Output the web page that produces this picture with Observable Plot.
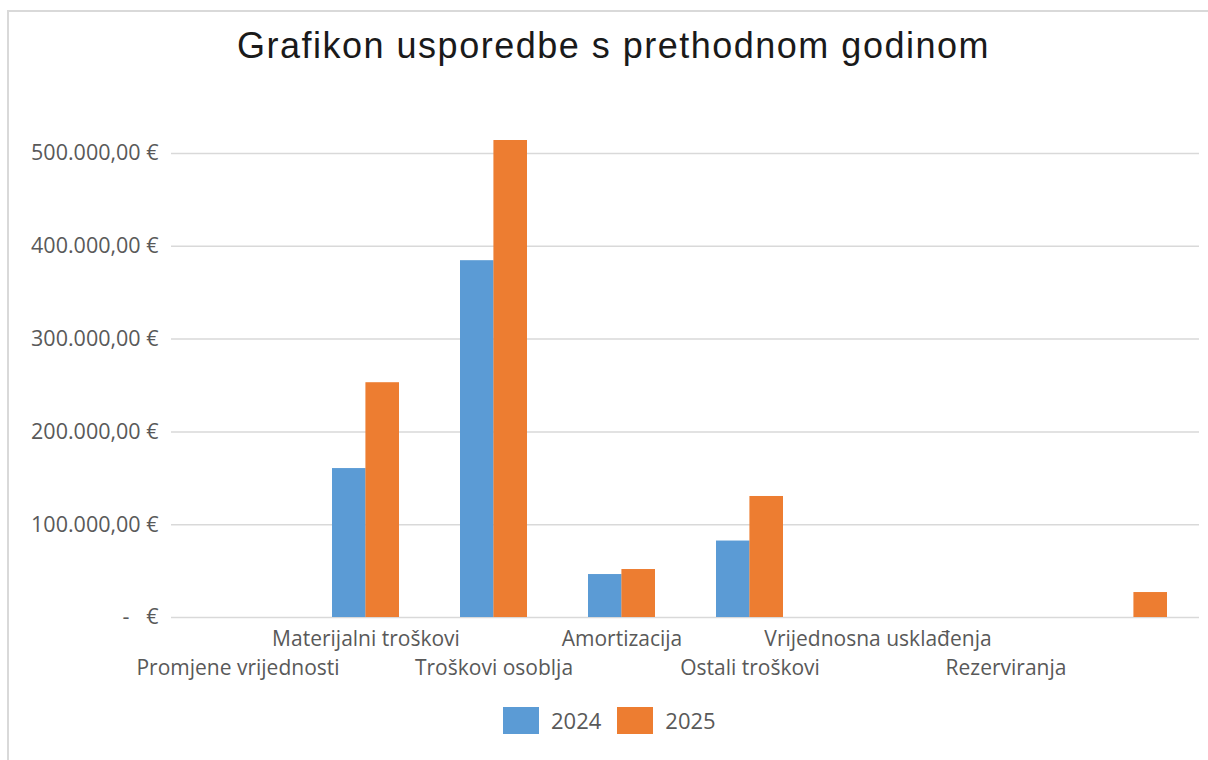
<!DOCTYPE html>
<html>
<head>
<meta charset="utf-8">
<script src="https://cdn.jsdelivr.net/npm/d3@7"></script>
<script src="https://cdn.jsdelivr.net/npm/@observablehq/plot@0.6"></script>
<style>
  html, body { margin: 0; padding: 0; background: #fff; overflow: hidden; width: 1208px; height: 760px; }
  #frame { position: absolute; left: 7px; top: 10px; width: 1400px; height: 900px;
           border-left: 2px solid #d9d9d9; border-top: 2px solid #d9d9d9; box-sizing: border-box; }
  #title { position: absolute; left: 0; top: 28px; width: 1227px; text-align: center;
           font-family: "Liberation Sans", Arial, sans-serif; font-size: 36px; line-height: 36px;
           letter-spacing: 1.5px; color: #1a1a1a; }
  #chart { position: absolute; left: 0; top: 100px; }
  #legend { position: absolute; left: 503px; top: 707px; display: flex; align-items: center;
            font-family: "Open Sans", sans-serif; font-size: 22px; color: #595959; }
  .sw { width: 36px; height: 27px; display: inline-block; margin-right: 12px; }
  .lab { margin-right: 16px; line-height: 27px; }
</style>
</head>
<body>
<div id="frame"></div>
<div id="title">Grafikon usporedbe s prethodnom godinom</div>
<div id="chart"></div>
<div id="legend"></div>
<script>
const categories = ["Promjene vrijednosti", "Materijalni troškovi", "Troškovi osoblja", "Amortizacija",
                    "Ostali troškovi", "Vrijednosna usklađenja", "Rezerviranja", ""];
const years = ["2024", "2025"];
const values2024 = [0, 160500, 384500, 46300, 82400, 0, 0, 0];
const values2025 = [0, 253000, 514000, 51700, 130400, 0, 0, 26900];
const yTicks = [0, 100000, 200000, 300000, 400000, 500000];
const colors = ["#5B9BD5", "#ED7D31"];

const rows = categories.flatMap((c, i) => [
  {cat: c, year: years[0], value: values2024[i]},
  {cat: c, year: years[1], value: values2025[i]}
]);

const W = 1208, H = 600, mL = 171, mR = 9, mT = 53, mB = 83;
const pInner = 0.48, pOuter = 0.24;
const xs = Plot.scale({x: {type: "band", domain: categories, range: [mL, W - mR], paddingInner: pInner, paddingOuter: pOuter}});
const half = xs.bandwidth / 2;

const loc = d3.formatLocale({decimal: ",", thousands: ".", grouping: [3], currency: ["", " €"]});
const fmt = loc.format(",.2f");
const tickFormat = d => d === 0 ? "-\u00a0\u00a0\u00a0€" : fmt(d) + " €";

const font = "'Open Sans', sans-serif";
const chart = Plot.plot({
  width: W, height: H,
  marginLeft: mL, marginRight: mR, marginTop: mT, marginBottom: mB,
  style: {fontFamily: font, fontSize: "21px", color: "#595959", background: "transparent"},
  x: {type: "band", domain: categories, paddingInner: pInner, paddingOuter: pOuter, axis: null},
  y: {domain: [0, 500000], axis: null},
  color: {domain: years, range: colors},
  marks: [
    Plot.gridY(yTicks, {stroke: "#d9d9d9", strokeOpacity: 1, strokeWidth: 1.5}),
    Plot.axisY({ticks: yTicks, tickSize: 0, tickPadding: 13, tickFormat, fontSize: 21.5, label: null}),
    Plot.barY(rows.filter(d => d.year === years[0]), {x: "cat", y: "value", fill: "year", insetRight: half}),
    Plot.barY(rows.filter(d => d.year === years[1]), {x: "cat", y: "value", fill: "year", insetLeft: half}),
    Plot.text(categories.filter((c, i) => i % 2 === 1), {x: d => d, frameAnchor: "bottom", dy: 28, fill: "#595959", fontSize: 21}),
    Plot.text(categories.filter((c, i) => i % 2 === 0), {x: d => d, frameAnchor: "bottom", dy: 57, fill: "#595959", fontSize: 21})
  ]
});
document.getElementById("chart").appendChild(chart);

const legend = document.getElementById("legend");
years.forEach((y, i) => {
  const sw = document.createElement("span");
  sw.className = "sw"; sw.style.background = colors[i];
  const lab = document.createElement("span");
  lab.className = "lab"; lab.textContent = y;
  legend.appendChild(sw); legend.appendChild(lab);
});
</script>
</body>
</html>
